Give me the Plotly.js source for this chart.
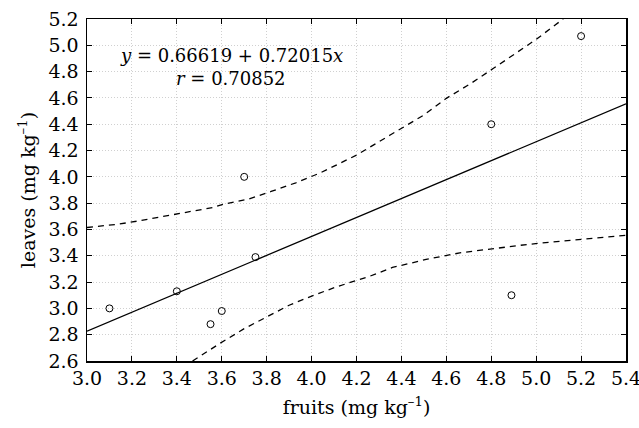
<!DOCTYPE html>
<html>
<head>
<meta charset="utf-8">
<script src="https://cdn.plot.ly/plotly-3.0.1.min.js"></script>
<style>html,body{margin:0;padding:0;background:#fff;}#chart{width:639px;height:428px;}</style>
</head>
<body>
<div id="chart"></div>
<script>
// observed points
const fruitsX = [3.10, 3.40, 3.55, 3.60, 3.70, 3.75, 4.80, 4.89, 5.20];
const leavesY = [3.00, 3.13, 2.88, 2.98, 4.00, 3.39, 4.40, 3.10, 5.07];

// regression line
const fitX = [3.0, 5.4];
const fitY = [2.827, 4.555];

// upper confidence band
const upperX = [3.00, 3.14, 3.23, 3.33, 3.44, 3.56, 3.61, 3.72, 3.82, 3.93, 4.04, 4.20, 4.35, 4.50, 4.60, 4.71, 4.81, 4.94, 5.00, 5.12];
const upperY = [3.615, 3.640, 3.665, 3.696, 3.727, 3.767, 3.793, 3.831, 3.889, 3.955, 4.031, 4.165, 4.318, 4.470, 4.597, 4.711, 4.825, 4.977, 5.045, 5.200];

// lower confidence band
const lowerX = [3.47, 3.59, 3.70, 3.80, 3.90, 4.01, 4.11, 4.19, 4.26, 4.36, 4.51, 4.66, 4.81, 4.96, 5.11, 5.26, 5.40];
const lowerY = [2.600, 2.732, 2.846, 2.935, 3.024, 3.100, 3.163, 3.207, 3.245, 3.311, 3.372, 3.422, 3.455, 3.486, 3.511, 3.534, 3.556];

// tick labels
const xTickVals = [3.0, 3.2, 3.4, 3.6, 3.8, 4.0, 4.2, 4.4, 4.6, 4.8, 5.0, 5.2, 5.4];
const xTickText = ['3.0', '3.2', '3.4', '3.6', '3.8', '4.0', '4.2', '4.4', '4.6', '4.8', '5.0', '5.2', '5.4'];
const yTickVals = [2.6, 2.8, 3.0, 3.2, 3.4, 3.6, 3.8, 4.0, 4.2, 4.4, 4.6, 4.8, 5.0, 5.2];
const yTickText = ['2.6', '2.8', '3.0', '3.2', '3.4', '3.6', '3.8', '4.0', '4.2', '4.4', '4.6', '4.8', '5.0', '5.2'];

const eqText = '<i>y</i> = 0.66619 + 0.72015<i>x</i>';
const rText = '<i>r</i> = 0.70852';
const xTitle = 'fruits (mg kg<sup>–1</sup>)';
const yTitle = 'leaves (mg kg<sup>–1</sup>)';

const font = "'DejaVu Serif', 'Liberation Serif', serif";

const traces = [
  {x: upperX, y: upperY, mode: 'lines', line: {color: '#000', width: 1.3, dash: '6px,5px'}, hoverinfo: 'skip'},
  {x: lowerX, y: lowerY, mode: 'lines', line: {color: '#000', width: 1.3, dash: '6px,5px'}, hoverinfo: 'skip'},
  {x: fitX, y: fitY, mode: 'lines', line: {color: '#000', width: 1.3}},
  {x: fruitsX, y: leavesY, mode: 'markers', marker: {symbol: 'circle-open', size: 7, color: '#000', line: {width: 1}}}
];

const axisCommon = {
  showline: true, linecolor: '#000', linewidth: 1.5, mirror: 'ticks',
  ticks: 'inside', ticklen: 5, tickcolor: '#000', tickwidth: 1,
  showgrid: true, gridcolor: '#d0d0d0', griddash: '1px,2px', gridwidth: 1,
  zeroline: false, tickmode: 'array', ticklabeloverflow: 'allow',
  tickfont: {family: font, size: 19, color: '#000'}
};

const layout = {
  width: 639, height: 428,
  margin: {l: 87, r: 13, t: 19, b: 67},
  paper_bgcolor: '#fff', plot_bgcolor: '#fff',
  showlegend: false,
  font: {family: font, color: '#000'},
  xaxis: Object.assign({}, axisCommon, {
    range: [3.0, 5.4], tickvals: xTickVals, ticktext: xTickText,
    title: {text: xTitle, font: {family: font, size: 19, color: '#000'}, standoff: 12}
  }),
  yaxis: Object.assign({}, axisCommon, {
    range: [2.6, 5.2], tickvals: yTickVals, ticktext: yTickText, ticklabelstandoff: 3,
    title: {text: yTitle, font: {family: font, size: 19, color: '#000'}, standoff: 8}
  }),
  annotations: [
    {xref: 'paper', yref: 'paper', x: (231 - 87) / 539, y: 1 - (55 - 19) / 342, text: eqText, showarrow: false,
     xanchor: 'center', yanchor: 'middle', font: {family: font, size: 18, color: '#000'}},
    {xref: 'paper', yref: 'paper', x: (231 - 87) / 539, y: 1 - (78 - 19) / 342, text: rText, showarrow: false,
     xanchor: 'center', yanchor: 'middle', font: {family: font, size: 18, color: '#000'}}
  ]
};

Plotly.newPlot('chart', traces, layout, {displayModeBar: false, staticPlot: true});
</script>
</body>
</html>
